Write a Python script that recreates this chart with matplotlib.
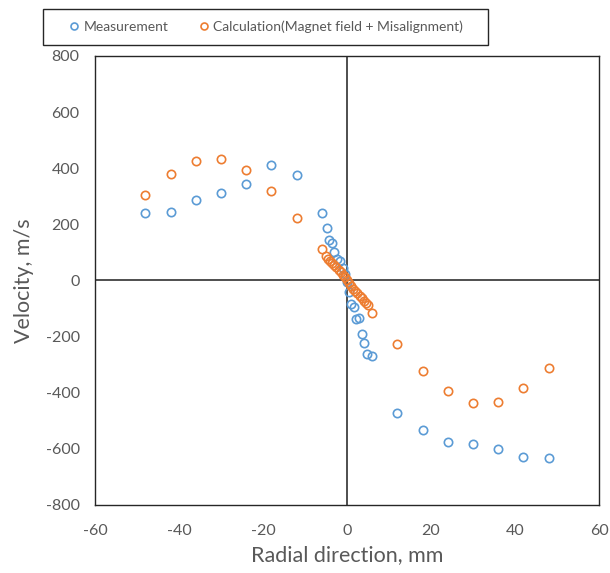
import matplotlib
matplotlib.use("Agg")
import matplotlib.pyplot as plt
from matplotlib.lines import Line2D
from matplotlib.patches import Rectangle

plt.rcParams['font.family'] = ['Lato', 'DejaVu Sans']
plt.rcParams['axes.unicode_minus'] = False

# measured velocity profile
meas_x = [-48, -42, -36, -30, -24, -18, -12, -6, -4.8, -4.2, -3.6, -3.0, -2.3,
          -1.7, -1.0, -0.5, 0, 0.5, 1.0, 1.7, 2.2, 2.9, 3.6, 4.1, 4.7, 5.9,
          12, 18, 24, 30, 36, 42, 48]
meas_v = [240, 245, 286, 311, 345, 410, 375, 240, 188, 145, 133, 102, 78,
          70, 43, 22, -5, -40, -84, -94, -138, -135, -191, -221, -262, -268,
          -473, -533, -577, -583, -602, -629, -631]

# calculated profile (magnet field + misalignment)
calc_x = [-48, -42, -36, -30, -24, -18, -12, -6, -5, -4.5, -4, -3.5, -3, -2.5,
          -2, -1.5, -1, -0.5, 0, 0.5, 1, 1.5, 2, 2.5, 3, 3.5, 4, 4.5, 5, 6,
          12, 18, 24, 30, 36, 42, 48]
calc_v = [305, 378, 427, 432, 393, 318, 223, 112, 86, 78, 70, 62, 55, 47,
          38, 30, 21, 11, 0, -10, -20, -29, -37, -46, -55, -63, -72, -80, -88, -115,
          -226, -322, -395, -435, -432, -383, -311]

blue = '#5B9BD5'
orange = '#ED7D31'
grey = '#595959'

fig = plt.figure(figsize=(6.1, 5.73), dpi=100)
ax = fig.add_axes([0.1557, 0.1187, 0.8263, 0.7836])

ax.axhline(0, color='#404040', lw=1.3, zorder=1)
ax.axvline(0, color='#404040', lw=1.3, zorder=1)

ax.plot(meas_x, meas_v, 'o', ms=6, mfc='none', mec=blue, mew=1.2, zorder=3)
ax.plot(calc_x, calc_v, 'o', ms=6, mfc='none', mec=orange, mew=1.2, zorder=3)

ax.set_xlim(-60, 60)
ax.set_ylim(-800, 800)
ax.set_xticks(range(-60, 61, 20))
ax.set_yticks(range(-800, 801, 200))
ax.tick_params(length=0, labelsize=11.5, labelcolor=grey)
ax.tick_params(axis='x', pad=14)
ax.tick_params(axis='y', pad=11)
for s in ax.spines.values():
    s.set_color('#262626')
    s.set_linewidth(1.0)

ax.set_xlabel('Radial direction, mm', fontsize=15.5, color=grey, labelpad=5)
ax.set_ylabel('Velocity, m/s', fontsize=15.5, color=grey, labelpad=8)

# legend box sits above the plot, wider than its contents
fig.patches.append(Rectangle((43 / 610, 1 - 45 / 573), 445 / 610, 36 / 573,
                             transform=fig.transFigure, fill=False,
                             ec='#262626', lw=1.0))
handles = [
    Line2D([], [], ls='none', marker='o', ms=5, mfc='none', mec=blue, mew=1.2),
    Line2D([], [], ls='none', marker='o', ms=5, mfc='none', mec=orange, mew=1.2),
]
leg = fig.legend(handles, ['Measurement', 'Calculation(Magnet field + Misalignment)'],
                 loc='center', bbox_to_anchor=(0.437, 0.953), ncol=2,
                 fontsize=10, frameon=False,
                 handlelength=0.6, handletextpad=0.4, columnspacing=2.2,
                 borderpad=0, borderaxespad=0)
for t in leg.get_texts():
    t.set_color(grey)

fig.savefig('out.png', dpi=100)
